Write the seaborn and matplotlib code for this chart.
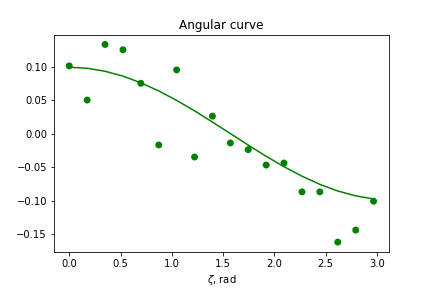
import numpy as np
import pandas as pd
import matplotlib
matplotlib.use("Agg")
import matplotlib.pyplot as plt
import seaborn as sns

zeta = [0.0, 0.175, 0.349, 0.524, 0.698, 0.873, 1.047, 1.222, 1.396,
        1.571, 1.745, 1.920, 2.094, 2.269, 2.443, 2.618, 2.793, 2.967]
observed = [0.101, 0.050, 0.133, 0.125, 0.075, -0.017, 0.095, -0.035, 0.026,
            -0.014, -0.024, -0.047, -0.044, -0.087, -0.087, -0.162, -0.144, -0.101]
curve = [0.0990, 0.0975, 0.0930, 0.0857, 0.0758, 0.0636, 0.0495, 0.0339, 0.0172,
         0.0000, -0.0172, -0.0339, -0.0495, -0.0636, -0.0758, -0.0857, -0.0930, -0.0975]

df = pd.DataFrame({"zeta": zeta, "observed": observed, "curve": curve})

fig, ax = plt.subplots(figsize=(6, 4), dpi=72)
fig.subplots_adjust(left=0.125, right=0.9, top=0.88, bottom=0.125)
sns.lineplot(data=df, x="zeta", y="curve", color="green", ax=ax, linewidth=1.5)
sns.scatterplot(data=df, x="zeta", y="observed", color="green", s=48,
                edgecolor="none", ax=ax)
ax.set_title("Angular curve")
ax.set_xlabel(r"$\zeta$, rad")
ax.set_ylabel("")
fig.savefig("out.png", dpi=72)
